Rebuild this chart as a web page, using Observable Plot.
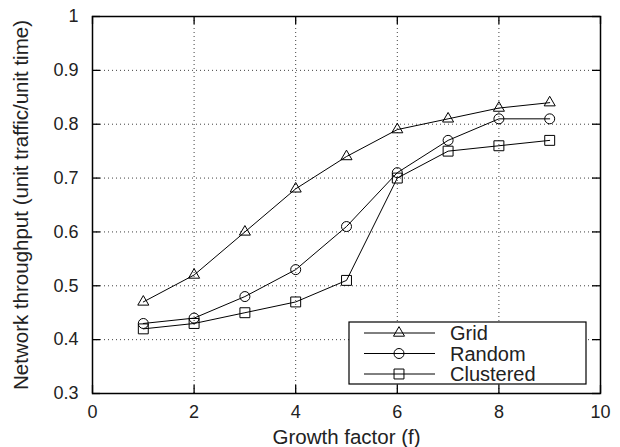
<!DOCTYPE html>
<html><head><meta charset="utf-8">
<script src="https://cdn.jsdelivr.net/npm/d3@7"></script>
<script src="https://cdn.jsdelivr.net/npm/@observablehq/plot@0.6"></script>
<style>body{margin:0;background:#fff}</style>
</head><body><div id="chart"></div>
<script>
// ---- data ----
const growth = [1, 2, 3, 4, 5, 6, 7, 8, 9];
const gridSeries = [0.47, 0.52, 0.60, 0.68, 0.74, 0.79, 0.81, 0.83, 0.84];
const randomSeries = [0.43, 0.44, 0.48, 0.53, 0.61, 0.71, 0.77, 0.81, 0.81];
const clusteredSeries = [0.42, 0.43, 0.45, 0.47, 0.51, 0.70, 0.75, 0.76, 0.77];
const seriesNames = ["Grid", "Random", "Clustered"];
const xTicks = [0, 2, 4, 6, 8, 10];
const yTicks = [0.3, 0.4, 0.5, 0.6, 0.7, 0.8, 0.9, 1];
const xLabel = "Growth factor (f)";
const yLabel = "Network throughput (unit traffic/unit time)";

// ---- styling ----
const FONT = "'Liberation Sans', Arial, Helvetica, sans-serif";
const symbolOf = {Grid: "triangle", Random: "circle", Clustered: "square"};
const radiusOf = {Grid: 4.1, Random: 5, Clustered: 5.6};
const W = 620, H = 447, ML = 92, MR = 20, MT = 16, MB = 54;
const innerW = W - ML - MR, innerH = H - MT - MB;
const TICK = 8;

const allSeries = [gridSeries, randomSeries, clusteredSeries];
const rows = [];
seriesNames.forEach((name, i) => growth.forEach((g, j) => rows.push({series: name, x: g, y: allSeries[i][j]})));

const marks = [
  Plot.ruleX(xTicks.slice(1, -1), {x: d => d, stroke: "#000", strokeOpacity: 0.75, strokeDasharray: "1,3"}),
  Plot.ruleY(yTicks.slice(1, -1), {y: d => d, stroke: "#000", strokeOpacity: 0.75, strokeDasharray: "1,3"}),
  Plot.line(rows, {x: "x", y: "y", z: "series", stroke: "#000", strokeWidth: 1})
];
seriesNames.forEach(name => {
  marks.push(Plot.dot(rows.filter(d => d.series === name), {
    x: "x", y: "y", symbol: () => symbolOf[name], r: radiusOf[name],
    stroke: "#000", fill: "none", strokeWidth: 1
  }));
});
marks.push(
  Plot.frame({stroke: "#000", strokeWidth: 1.5}),
  Plot.tickX(xTicks, {x: d => d, insetTop: innerH - TICK, stroke: "#000", strokeWidth: 1.3}),
  Plot.tickX(xTicks, {x: d => d, insetBottom: innerH - TICK, stroke: "#000", strokeWidth: 1.3}),
  Plot.tickY(yTicks, {y: d => d, insetRight: innerW - TICK, stroke: "#000", strokeWidth: 1.3}),
  Plot.tickY(yTicks, {y: d => d, insetLeft: innerW - TICK, stroke: "#000", strokeWidth: 1.3}),
  Plot.text([xLabel], {frameAnchor: "bottom", text: d => d, dy: 44, lineAnchor: "middle", textAnchor: "middle", fontSize: 20.5, fill: "#222"}),
  Plot.text([yLabel], {frameAnchor: "left", text: d => d, rotate: -90, dx: -71, lineAnchor: "middle", textAnchor: "middle", fontSize: 20.5, fill: "#222"})
);

const chart = Plot.plot({
  width: W, height: H,
  marginLeft: ML, marginRight: MR, marginTop: MT, marginBottom: MB,
  style: {fontFamily: FONT, fontSize: "18px", color: "#222", background: "#fff", overflow: "visible"},
  x: {domain: [0, 10], ticks: xTicks, tickSize: 0, tickPadding: 12, label: null, tickFormat: d => String(d)},
  y: {domain: [0.3, 1], ticks: yTicks, tickSize: 0, tickPadding: 14, label: null, tickFormat: d => String(+d.toFixed(1))},
  symbol: {type: "identity"},
  marks
});
document.getElementById("chart").appendChild(chart);

// ---- legend (inside plot, lower right) ----
const svg = d3.select(chart);
const lg = svg.append("g").attr("font-family", FONT).attr("text-anchor", "start");
const LX = 349, LY = 322, LW = 237, LH = 62;
lg.append("rect").attr("x", LX).attr("y", LY).attr("width", LW).attr("height", LH)
  .attr("fill", "#fff").attr("stroke", "#000").attr("stroke-width", 1.2);
const symMap = {triangle: d3.symbolTriangle, circle: d3.symbolCircle, square: d3.symbolSquare};
seriesNames.forEach((name, i) => {
  const cy = LY + 11 + i * 20.5;
  lg.append("line").attr("x1", LX + 15).attr("x2", LX + 86).attr("y1", cy).attr("y2", cy)
    .attr("stroke", "#000").attr("stroke-width", 1);
  const r = radiusOf[name];
  lg.append("path").attr("transform", `translate(${LX + 50},${cy})`)
    .attr("d", d3.symbol(symMap[symbolOf[name]], r * r * Math.PI)())
    .attr("fill", "none").attr("stroke", "#000").attr("stroke-width", 1);
  lg.append("text").attr("x", LX + 101).attr("y", cy).attr("dy", "0.35em")
    .attr("text-anchor", "start")
    .attr("font-size", 20).attr("fill", "#222").text(name);
});
</script>
</body></html>
